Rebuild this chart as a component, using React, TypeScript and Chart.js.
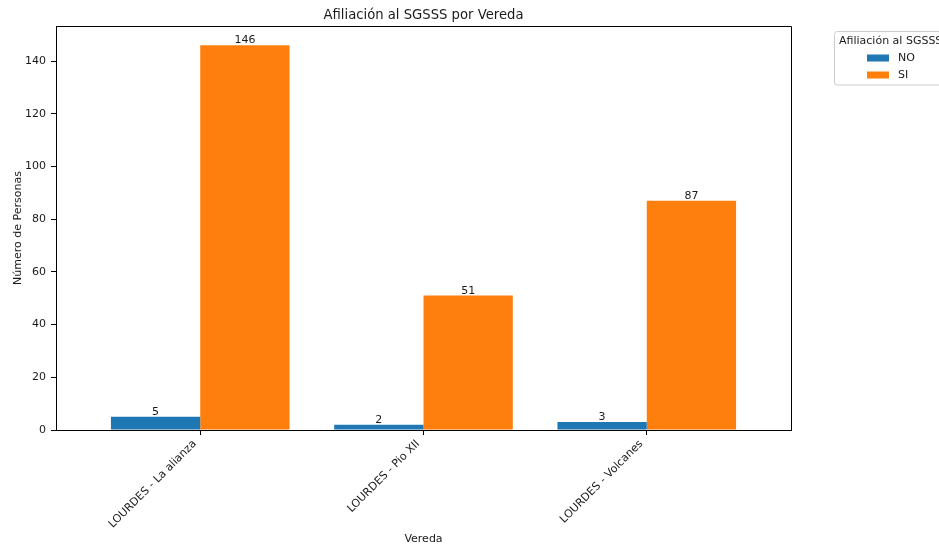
import React, { useEffect, useRef } from "react";
import { Chart, registerables } from "chart.js";

Chart.register(...registerables);

const categories = ["LOURDES - La alianza", "LOURDES - Pio XII", "LOURDES - Volcanes"];
const seriesNames = ["NO", "SI"];
const noValues = [5, 2, 3];
const siValues = [146, 51, 87];
const yTickValues = [0, 20, 40, 60, 80, 100, 120, 140];
const chartTitle = "Afiliación al SGSSS por Vereda";
const legendTitle = "Afiliación al SGSSS";
const xTitle = "Vereda";
const yTitle = "Número de Personas";
const colors = ["#1f77b4", "#ff7f0e"];

const FONT = "'DejaVu Sans', sans-serif";
const TXT = "#1a1a1a";
const FS = 11;

export default function App() {
  const ref = useRef<HTMLCanvasElement | null>(null);

  useEffect(() => {
    if (!ref.current) return;

    const framePlugin = {
      id: "frame",
      afterDatasetsDraw(chart: any) {
        const { ctx, chartArea } = chart;
        ctx.save();
        ctx.strokeStyle = "#000";
        ctx.lineWidth = 1;
        ctx.beginPath();
        ctx.moveTo(Math.round(chartArea.left) + 0.5, Math.round(chartArea.top) + 0.5);
        ctx.lineTo(Math.round(chartArea.right) + 0.5, Math.round(chartArea.top) + 0.5);
        ctx.lineTo(Math.round(chartArea.right) + 0.5, Math.round(chartArea.bottom) + 0.5);
        ctx.stroke();
        // value labels
        ctx.fillStyle = TXT;
        ctx.font = `${FS}px ${FONT}`;
        ctx.textAlign = "center";
        ctx.textBaseline = "alphabetic";
        chart.data.datasets.forEach((ds: any, di: number) => {
          const meta = chart.getDatasetMeta(di);
          meta.data.forEach((el: any, i: number) => {
            ctx.fillText(String(ds.data[i].y), el.x, el.y - 2);
          });
        });
        // title
        ctx.font = `13.2px ${FONT}`;
        ctx.textBaseline = "middle";
        ctx.fillText(chartTitle, (chartArea.left + chartArea.right) / 2, 16);
        // legend
        const lx = 834.5, ly = 31.5, lw = 130, lh = 53.5;
        ctx.fillStyle = "rgba(255,255,255,0.8)";
        ctx.strokeStyle = "#cccccc";
        ctx.beginPath();
        (ctx as any).roundRect(lx, ly, lw, lh, 3);
        ctx.fill();
        ctx.stroke();
        ctx.fillStyle = TXT;
        ctx.font = `${FS}px ${FONT}`;
        ctx.textAlign = "left";
        ctx.fillText(legendTitle, 839, 41.5);
        const rows = [58, 75];
        seriesNames.forEach((n, i) => {
          ctx.fillStyle = colors[i];
          ctx.fillRect(867, rows[i] - 3.5, 22, 7);
          ctx.fillStyle = TXT;
          ctx.fillText(n, 898, rows[i]);
        });
        ctx.restore();
      },
    };

    const chart = new Chart(ref.current, {
      type: "bar",
      data: {
        datasets: [
          {
            label: seriesNames[0],
            data: noValues.map((v, i) => ({ x: i, y: v })),
            backgroundColor: colors[0],
            borderWidth: 0,
          },
          {
            label: seriesNames[1],
            data: siValues.map((v, i) => ({ x: i, y: v })),
            backgroundColor: colors[1],
            borderWidth: 0,
          },
        ],
      },
      options: {
        responsive: false,
        animation: false,
        events: [],
        layout: { padding: { top: 26, right: 148, bottom: 0, left: 0 } },
        categoryPercentage: 0.8,
        barPercentage: 1.0,
        plugins: {
          legend: { display: false },
          title: { display: false },
          tooltip: { enabled: false },
        },
        scales: {
          x: {
            type: "linear",
            offset: false,
            min: -0.646,
            max: 2.646,
            afterBuildTicks: (s: any) => {
              s.ticks = categories.map((_, i) => ({ value: i }));
            },
            afterFit: (s: any) => {
              s.height = 116;
              s.paddingLeft = 0;
              s.paddingRight = 0;
              s.paddingTop = 0;
              s.paddingBottom = 0;
            },
            grid: {
              display: true,
              offset: false,
              drawOnChartArea: false,
              drawTicks: true,
              tickLength: 5,
              color: "#000",
            },
            border: { display: true, color: "#000", width: 1 },
            ticks: {
              autoSkip: false,
              minRotation: 45,
              maxRotation: 45,
              padding: 2.4,
              labelOffset: -5.4,
              color: TXT,
              font: { family: FONT, size: FS },
              callback: (v: any) => categories[v] ?? "",
            },
            title: {
              display: true,
              text: xTitle,
              color: TXT,
              font: { family: FONT, size: FS },
              padding: { top: 0, bottom: 0 },
            },
          },
          y: {
            type: "linear",
            min: 0,
            max: 153.3,
            afterBuildTicks: (s: any) => {
              s.ticks = yTickValues.map((v) => ({ value: v }));
            },
            afterFit: (s: any) => {
              s.width = 56;
              s.paddingTop = 0;
              s.paddingBottom = 0;
              s.paddingLeft = 0;
              s.paddingRight = 0;
            },
            grid: {
              display: true,
              drawOnChartArea: false,
              drawTicks: true,
              tickLength: 5,
              color: "#000",
            },
            border: { display: true, color: "#000", width: 1 },
            ticks: {
              padding: 5,
              color: TXT,
              font: { family: FONT, size: FS },
            },
            title: {
              display: true,
              text: yTitle,
              color: TXT,
              font: { family: FONT, size: FS },
              padding: { top: 11.4, bottom: 0 },
            },
          },
        },
      } as any,
      plugins: [framePlugin],
    });
    return () => chart.destroy();
  }, []);

  return (
    <div style={{ position: "fixed", left: 0, top: 0, width: 939, height: 546, background: "#fff" }}>
      <canvas ref={ref} width={939} height={546} style={{ display: "block" }} />
    </div>
  );
}
